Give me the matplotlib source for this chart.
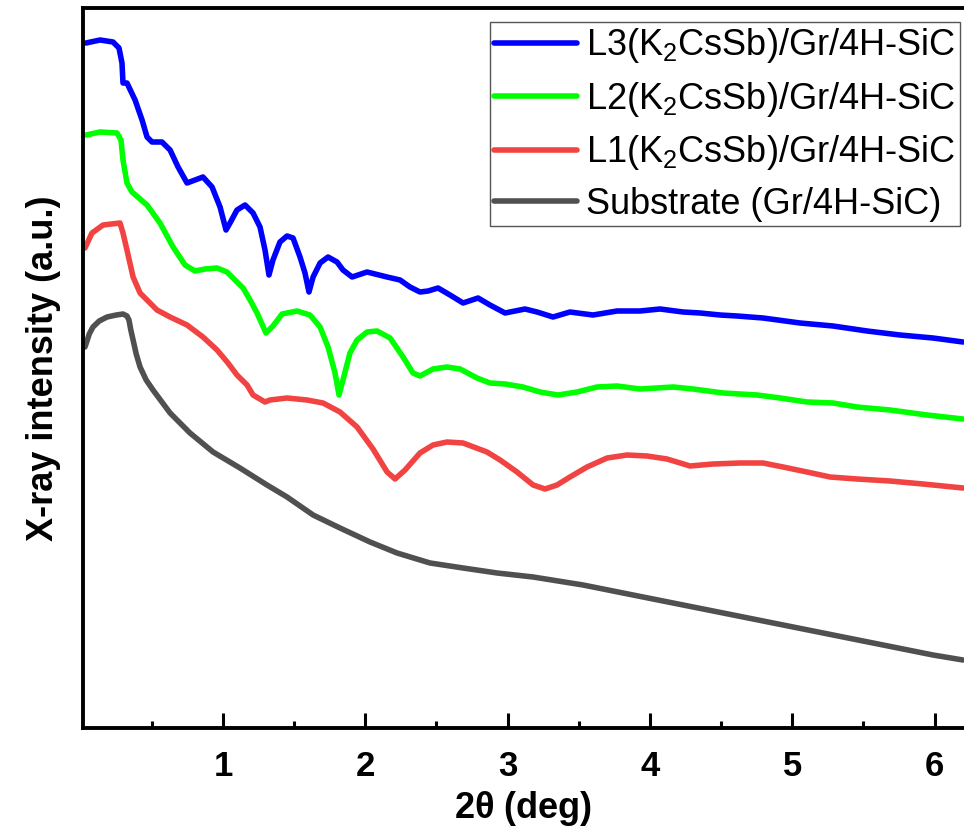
import numpy as np
import matplotlib
matplotlib.use('Agg')
import matplotlib.pyplot as plt

############################################################
# Data (2theta in deg, intensity in a.u.)

x_L3 = [0.037, 0.136, 0.227, 0.269, 0.290, 0.297, 0.325, 0.382, 0.431, 0.466, 0.501, 0.571,
        0.628, 0.684, 0.747, 0.803, 0.859, 0.923, 0.979, 1.021, 1.049, 1.098, 1.155, 1.211,
        1.260, 1.295, 1.323, 1.351, 1.400, 1.450, 1.492, 1.541, 1.576, 1.604, 1.633, 1.682,
        1.738, 1.801, 1.843, 1.907, 2.012, 2.153, 2.244, 2.314, 2.384, 2.441, 2.511, 2.595,
        2.687, 2.792, 2.876, 2.982, 3.122, 3.207, 3.319, 3.438, 3.600, 3.769, 3.930, 4.071,
        4.233, 4.353, 4.493, 4.613, 4.795, 5.055, 5.287, 5.526, 5.757, 5.989, 6.200]
y_L3 = [685, 688, 686, 680, 665, 645, 645, 628, 608, 591, 586, 586,
        578, 561, 545, 548, 551, 541, 521, 498, 505, 518, 523, 515,
        501, 478, 453, 468, 486, 492, 490, 471, 455, 436, 451, 465,
        471, 466, 458, 451, 456, 451, 448, 441, 436, 437, 440, 433,
        425, 430, 423, 415, 419, 416, 411, 416, 413, 417, 417, 419,
        416, 415, 413, 412, 410, 405, 402, 397, 393, 390, 386]

x_L2 = [0.037, 0.136, 0.255, 0.283, 0.297, 0.325, 0.360, 0.466, 0.557, 0.649, 0.733, 0.803,
        0.874, 0.958, 1.028, 1.084, 1.141, 1.190, 1.239, 1.302, 1.351, 1.415, 1.520, 1.611,
        1.682, 1.738, 1.787, 1.815, 1.843, 1.892, 1.942, 2.012, 2.082, 2.174, 2.265, 2.335,
        2.384, 2.476, 2.574, 2.666, 2.785, 2.876, 2.982, 3.108, 3.228, 3.354, 3.488, 3.628,
        3.769, 3.930, 4.163, 4.304, 4.514, 4.754, 4.915, 5.104, 5.287, 5.455, 5.687, 5.947,
        6.200]
y_L2 = [593, 596, 595, 588, 568, 545, 536, 523, 505, 481, 463, 457,
        459, 460, 456, 448, 440, 428, 415, 395, 402, 414, 417, 413,
        401, 381, 355, 333, 348, 375, 388, 396, 397, 390, 371, 355,
        352, 359, 361, 359, 350, 345, 344, 341, 336, 333, 336, 341,
        342, 339, 341, 339, 335, 333, 330, 326, 325, 321, 318, 313,
        309]

x_L1 = [0.030, 0.079, 0.157, 0.276, 0.297, 0.325, 0.368, 0.417, 0.536, 0.628, 0.747, 0.859,
        0.958, 1.035, 1.098, 1.169, 1.211, 1.295, 1.330, 1.450, 1.590, 1.703, 1.822, 1.942,
        2.054, 2.153, 2.209, 2.279, 2.384, 2.476, 2.574, 2.687, 2.855, 2.947, 3.066, 3.179,
        3.263, 3.347, 3.438, 3.558, 3.699, 3.839, 3.980, 4.120, 4.282, 4.444, 4.634, 4.795,
        4.936, 5.104, 5.266, 5.455, 5.687, 5.919, 6.200]
y_L1 = [480, 495, 503, 505, 495, 478, 451, 435, 418, 411, 403, 391,
        378, 365, 353, 343, 333, 326, 328, 330, 328, 325, 316, 301,
        279, 256, 249, 258, 275, 283, 286, 285, 276, 268, 256, 243,
        239, 243, 251, 261, 270, 273, 272, 269, 262, 264, 265, 265,
        261, 256, 251, 249, 247, 244, 240]

x_sub = [0.030, 0.060, 0.086, 0.130, 0.185, 0.250, 0.297, 0.325, 0.339, 0.352, 0.368, 0.390,
         0.417, 0.460, 0.508, 0.628, 0.768, 0.930, 1.119,
         1.309, 1.450, 1.633, 1.822, 2.033, 2.223, 2.455, 2.687, 2.926, 3.179, 3.530, 3.881,
         4.233, 4.585, 4.936, 5.287, 5.638, 5.989, 6.200]
y_sub = [381, 394, 401, 407, 411, 413, 414, 412, 408, 398, 388, 374,
         361, 348, 338, 315, 295, 276, 260,
         243, 231, 213, 200, 186, 175, 165, 160, 155, 151, 143, 133,
         123, 113, 103, 93, 83, 73, 68]

labels = ['L3(K$_2$CsSb)/Gr/4H-SiC', 'L2(K$_2$CsSb)/Gr/4H-SiC',
          'L1(K$_2$CsSb)/Gr/4H-SiC', 'Substrate (Gr/4H-SiC)']
colors = ['#0000ff', '#00ff00', '#f24343', '#505050']

############################################################
# Plotting

plt.rcParams['font.family'] = ['Liberation Sans', 'DejaVu Sans']
plt.rcParams['mathtext.fontset'] = 'custom'
plt.rcParams['mathtext.rm'] = 'Liberation Sans'
plt.rcParams['mathtext.default'] = 'regular'

fig = plt.figure(figsize=(9.64, 8.32), dpi=100)
ax = fig.add_axes([83 / 964, 104 / 832, 881 / 964, 720 / 832])

series = [(x_L3, y_L3), (x_L2, y_L2), (x_L1, y_L1), (x_sub, y_sub)]
for (xs, ys), lab, c in zip(series, labels, colors):
    ax.plot(xs, ys, color=c, lw=4.0, label=lab, solid_joinstyle='round', solid_capstyle='round')

ax.set_xlim(0.016, 6.207)
ax.set_ylim(0, 720)
ax.set_yticks([])
ax.set_xticks([1, 2, 3, 4, 5, 6])
ax.set_xticks(np.arange(0.5, 6.2, 1.0), minor=True)
ax.tick_params(axis='x', which='major', direction='in', length=11, width=2.2, pad=16, labelsize=25)
ax.tick_params(axis='x', which='minor', direction='in', length=5, width=2.2)
for lab in ax.get_xticklabels():
    lab.set_fontweight('bold')

for s in ['left', 'top', 'bottom']:
    ax.spines[s].set_linewidth(2.8)
ax.spines['right'].set_visible(False)

ax.set_xlabel(r'2$\theta$ (deg)', fontsize=26, fontweight='bold', labelpad=4)
ax.set_ylabel('X-ray intensity (a.u.)', fontsize=26, fontweight='bold', labelpad=16)

leg = ax.legend(loc='upper right', bbox_to_anchor=(1 - 4 / 881, 1 - 14 / 720), fontsize=26,
                frameon=True, fancybox=False, edgecolor='#555555', framealpha=1,
                handlelength=2.3, handletextpad=0.25, labelspacing=0.40, borderpad=0.12,
                borderaxespad=0)
leg.get_frame().set_linewidth(1.0)

fig.savefig('out.png', dpi=100)
